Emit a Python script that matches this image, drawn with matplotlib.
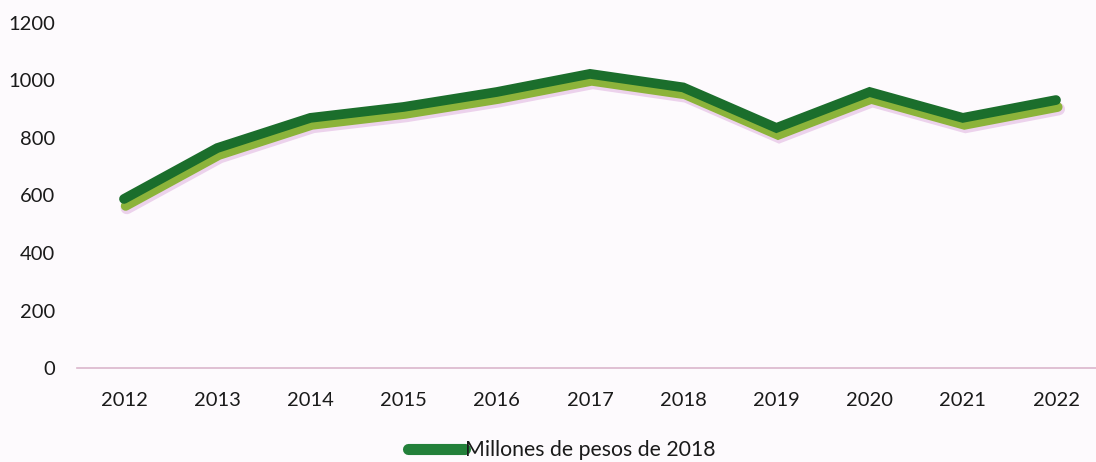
import matplotlib
matplotlib.use("Agg")
import matplotlib.pyplot as plt
import matplotlib.patheffects as pe
from matplotlib.lines import Line2D

years = ["2012", "2013", "2014", "2015", "2016", "2017", "2018", "2019", "2020", "2021", "2022"]
values = [588, 765, 870, 908, 960, 1023, 976, 835, 960, 870, 932]
series_label = "Millones de pesos de 2018"
yticks = [0, 200, 400, 600, 800, 1000, 1200]

plt.rcParams['font.family'] = ['Lato', 'DejaVu Sans']

W, H = 1096, 462
fig = plt.figure(figsize=(W / 100, H / 100), dpi=100)
bg = "#fdfafd"
fig.patch.set_facecolor(bg)

left_px, right_px = 77.4, 1096
bottom_px, top_px = 368, 23
ax = fig.add_axes([left_px / W, (H - bottom_px) / H,
                   (right_px - left_px) / W, (bottom_px - top_px) / H])
ax.set_facecolor(bg)

x = list(range(len(years)))
ax.plot(x, values, color="#1b6e2c", lw=7, solid_capstyle="round",
        solid_joinstyle="miter", label=series_label, zorder=3,
        path_effects=[pe.SimpleLineShadow(offset=(2, -6.5), shadow_color="#e8c8e8", alpha=0.8, linewidth=9),
                      pe.SimpleLineShadow(offset=(1.2, -5), shadow_color="#8cb33a", alpha=1.0),
                      pe.Normal()])

ax.set_xlim(-0.5, -0.5 + (right_px - left_px) / 93.2)
ax.set_ylim(0, 1200)
ax.set_xticks(x)
ax.set_xticklabels(years)
ax.set_yticks(yticks)
ax.set_yticklabels([str(v) for v in yticks])

for s in ["top", "right", "left"]:
    ax.spines[s].set_visible(False)
ax.spines["bottom"].set_color("#dbb6cc")
ax.spines["bottom"].set_linewidth(1.2)
ax.tick_params(axis="both", length=0, labelsize=14.5, colors="#1a1a1a")
ax.tick_params(axis="x", pad=17)
ax.tick_params(axis="y", pad=16)

handle = Line2D([0], [0], color="#23803a", lw=8, solid_capstyle="round")
fig.legend([handle], [series_label], loc="center", bbox_to_anchor=(562 / W, 1 - 450 / H),
           frameon=False, fontsize=15.3, handlelength=2.7, handletextpad=0.0,
           labelcolor="#1a1a1a")

fig.savefig("out.png", dpi=100, facecolor=bg)
